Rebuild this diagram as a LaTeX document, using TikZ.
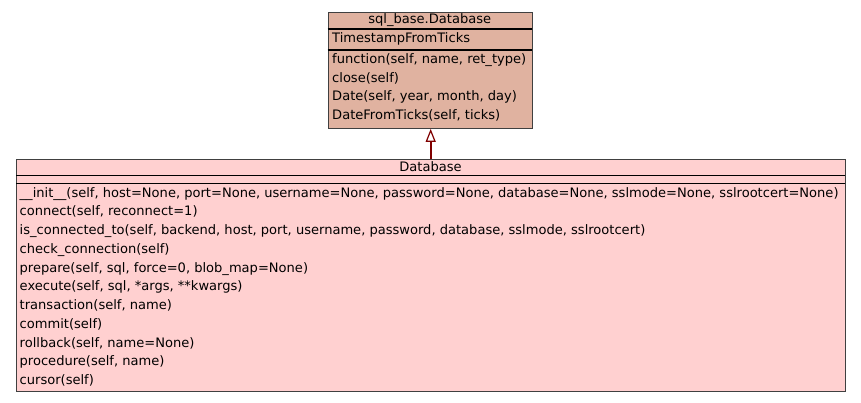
\documentclass[tikz,border=0pt]{standalone}
\usepackage{fontspec}
\setmainfont{DejaVu Sans}
\usetikzlibrary{arrows.meta}
\definecolor{topfill}{HTML}{E0B2A0}
\definecolor{botfill}{HTML}{FFD0D0}
\definecolor{edgegray}{HTML}{404040}
\definecolor{inh}{HTML}{800000}
\tikzset{
  classbox/.style={draw=edgegray, line width=1.2pt, rectangle, inner sep=0pt, anchor=north west},
  sepline/.style={draw=black, line width=1.2pt},
  member/.style={anchor=base west, inner sep=0pt, font=\fontsize{13.05}{15}\selectfont, text=black},
  title/.style={anchor=base, inner sep=0pt, font=\fontsize{13.05}{15}\selectfont, text=black},
  inherit/.style={draw=inh, line width=2pt, -{Triangle[open, length=13pt, width=10pt, line width=1.2pt, fill=white]}}
}
\begin{document}
\begin{tikzpicture}[x=1pt,y=-1pt]
\useasboundingbox (0,0) rectangle (861,403);
% top class
\node[classbox, fill=topfill, minimum width=204.5pt, minimum height=115.7pt] (base) at (327.5,12) {};
\draw[sepline] (327.5,29) -- (532,29);
\draw[sepline] (327.5,50) -- (532,50);
\node[title] (basetitle) at (429.75,23.5) {sql\_base.Database};
\node[member] (b1) at (332,42.8) {TimestampFromTicks};
\node[member] (b2) at (332,63.5) {function(self, name, ret\_type)};
\node[member] (b3) at (332,82.2) {close(self)};
\node[member] (b4) at (332,100.5) {Date(self, year, month, day)};
\node[member] (b5) at (332,119.2) {DateFromTicks(self, ticks)};
% bottom class
\node[classbox, fill=botfill, minimum width=829pt, minimum height=231.7pt] (db) at (16,159) {};
\draw[sepline] (16,175.7) -- (845,175.7);
\draw[sepline] (16,183.3) -- (845,183.3);
\node[title] (dbtitle) at (430.5,171.2) {Database};
\node[member] (m1) at (19.5,197.2) {\_\_init\_\_(self, host=None, port=None, username=None, password=None, database=None, sslmode=None, sslrootcert=None)};
\node[member] (m2) at (19.5,216) {connect(self, reconnect=1)};
\node[member] (m3) at (19.5,234.7) {is\_connected\_to(self, backend, host, port, username, password, database, sslmode, sslrootcert)};
\node[member] (m4) at (19.5,253.4) {check\_connection(self)};
\node[member] (m5) at (19.5,272.2) {prepare(self, sql, force=0, blob\_map=None)};
\node[member] (m6) at (19.5,290.9) {execute(self, sql, *args, **kwargs)};
\node[member] (m7) at (19.5,309.6) {transaction(self, name)};
\node[member] (m8) at (19.5,328.3) {commit(self)};
\node[member] (m9) at (19.5,347.1) {rollback(self, name=None)};
\node[member] (m10) at (19.5,365.8) {procedure(self, name)};
\node[member] (m11) at (19.5,384.5) {cursor(self)};
% inheritance
\draw[inherit] (db.north -| 430.7,0) -- (base.south -| 430.7,0);
\end{tikzpicture}
\end{document}
